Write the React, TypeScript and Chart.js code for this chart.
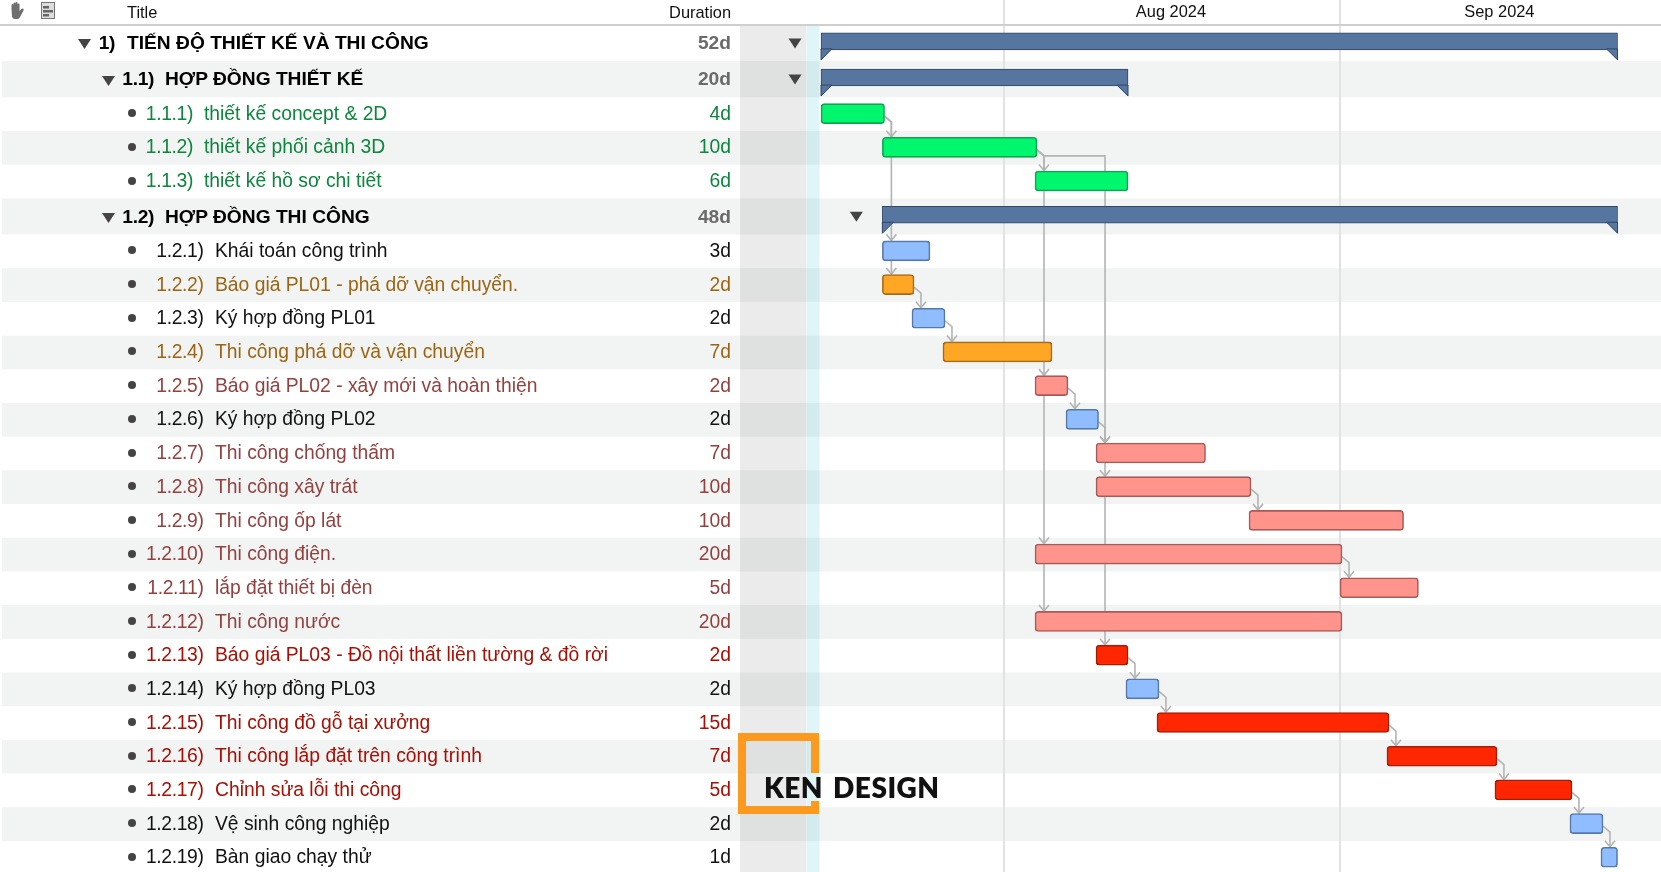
import React, { useEffect, useRef } from "react";
import { Chart, registerables } from "chart.js";

Chart.register(...registerables);

// ---------- data ----------
const rowNumbers = ["1)", "1.1)", "1.1.1)", "1.1.2)", "1.1.3)", "1.2)", "1.2.1)", "1.2.2)", "1.2.3)", "1.2.4)", "1.2.5)", "1.2.6)", "1.2.7)", "1.2.8)", "1.2.9)", "1.2.10)", "1.2.11)", "1.2.12)", "1.2.13)", "1.2.14)", "1.2.15)", "1.2.16)", "1.2.17)", "1.2.18)", "1.2.19)"];
const rowTitles = [
  "TIẾN ĐỘ THIẾT KẾ VÀ THI CÔNG", "HỢP ĐỒNG THIẾT KẾ", "thiết kế concept & 2D", "thiết kế phối cảnh 3D", "thiết kế hồ sơ chi tiết",
  "HỢP ĐỒNG THI CÔNG", "Khái toán công trình", "Báo giá PL01 - phá dỡ vận chuyển.", "Ký hợp đồng PL01", "Thi công phá dỡ và vận chuyển",
  "Báo giá PL02 - xây mới và hoàn thiện", "Ký hợp đồng PL02", "Thi công chống thấm", "Thi công xây trát", "Thi công ốp lát",
  "Thi công điện.", "lắp đặt thiết bị đèn", "Thi công nước", "Báo giá PL03 - Đồ nội thất liền tường & đồ rời", "Ký hợp đồng PL03",
  "Thi công đồ gỗ tại xưởng", "Thi công lắp đặt trên công trình", "Chỉnh sửa lỗi thi công", "Vệ sinh công nghiệp", "Bàn giao chạy thử",
];
const rowDurations = ["52d", "20d", "4d", "10d", "6d", "48d", "3d", "2d", "2d", "7d", "2d", "2d", "7d", "10d", "10d", "20d", "5d", "20d", "2d", "2d", "15d", "7d", "5d", "2d", "1d"];
const rowKinds = ["summary", "summary", "design", "design", "design", "summary", "admin", "demolition", "admin", "demolition", "build", "admin", "build", "build", "build", "build", "build", "build", "joinery", "admin", "joinery", "joinery", "joinery", "admin", "admin"];
// Day numbers counted from 1 July 2024
const barStarts = [14.12, 14.12, 14.12, 19.78, 33.86, 19.78, 19.78, 19.78, 22.51, 25.37, 33.86, 36.72, 39.49, 39.49, 53.6, 33.86, 62.0, 33.86, 39.49, 42.25, 45.11, 66.33, 76.29, 83.21, 86.07];
const barEnds = [87.6, 42.44, 19.98, 34.04, 42.44, 87.6, 24.17, 22.7, 25.56, 35.43, 36.9, 39.72, 49.59, 53.79, 67.86, 62.18, 69.23, 62.18, 42.44, 45.3, 66.52, 76.48, 83.4, 86.26, 87.6];
const linkFrom = [2, 2, 3, 3, 3, 6, 7, 8, 10, 11, 12, 13, 13, 10, 15, 15, 18, 19, 20, 21, 22, 23];
const linkTo = [3, 6, 4, 10, 12, 7, 8, 9, 11, 12, 13, 14, 18, 15, 16, 17, 19, 20, 21, 22, 23, 24];
const monthStarts = [31, 62];
const monthLabelDays = [46.4, 76.7];
const monthLabels = ["Aug 2024", "Sep 2024"];
const nonWorkingRange = [6.65, 12.75];
const todayRange = [12.78, 13.98];

// ---------- layout and style ----------
const W = 1661;
const H = 872;
const HEAD = 25;
const ROW = 33.69;
const SUMMARY_WEIGHT = 1.073;
const DAY_PX = 10.84;
const AUG_PX = 1004;

const weight = (i: number) => (rowKinds[i] === "summary" ? SUMMARY_WEIGHT : 1);
const rowTop = (i: number) => {
  let t = 0;
  for (let k = 0; k < i; k++) t += weight(k);
  return t;
};
const rowMid = (i: number) => rowTop(i) + weight(i) / 2;

const barFill: Record<string, string> = { summary: "#56769f", design: "#00f66c", admin: "#8fbdff", demolition: "#ffa724", build: "#ff948c", joinery: "#ff2600" };
const barEdge: Record<string, string> = { summary: "#2e4769", design: "#0fa352", admin: "#5578a8", demolition: "#a56a1a", build: "#a85a58", joinery: "#a81c06" };
const textColour: Record<string, string> = { summary: "#000", design: "#0b863c", admin: "#111", demolition: "#9c6412", build: "#93413f", joinery: "#a80e04" };
const FONT = '"Liberation Sans", Arial, sans-serif';

const taskRows = rowKinds.map((k, i) => i).filter((i) => rowKinds[i] !== "summary");
const summaryRows = rowKinds.map((k, i) => i).filter((i) => rowKinds[i] === "summary");

const ganttDecor = {
  id: "ganttDecor",
  beforeDraw(chart: any) {
    const { ctx, chartArea: a, scales } = chart;
    const y = scales.y;
    const x = scales.x;
    ctx.save();
    ctx.fillStyle = "#fff";
    ctx.fillRect(0, 0, W, H);
    rowKinds.forEach((_, i) => {
      if (i % 2 === 1) {
        ctx.fillStyle = "#f2f4f3";
        const t = y.getPixelForValue(rowTop(i));
        const b = y.getPixelForValue(rowTop(i) + weight(i));
        ctx.fillRect(2, t, W - 2, b - t);
      }
    });
    ctx.fillStyle = "rgba(0,0,0,0.08)";
    ctx.fillRect(x.getPixelForValue(nonWorkingRange[0]), a.top, x.getPixelForValue(nonWorkingRange[1]) - x.getPixelForValue(nonWorkingRange[0]), a.bottom - a.top);
    ctx.fillStyle = "rgba(0,170,200,0.12)";
    ctx.fillRect(x.getPixelForValue(todayRange[0]), a.top, x.getPixelForValue(todayRange[1]) - x.getPixelForValue(todayRange[0]), a.bottom - a.top);
    ctx.restore();
  },
  beforeDatasetsDraw(chart: any) {
    const { ctx, scales } = chart;
    const x = scales.x;
    const y = scales.y;
    ctx.save();
    ctx.strokeStyle = "#b3b3b3";
    ctx.fillStyle = "none";
    ctx.lineWidth = 1.6;
    ctx.lineJoin = "round";
    const tasks = (i: number) => y.getPixelForValue(rowMid(i));
    linkFrom.forEach((f, n) => {
      const t = linkTo[n];
      const endX = x.getPixelForValue(barEnds[f]);
      const tx = x.getPixelForValue(barStarts[t]) + 9;
      const fy = tasks(f) - 1;
      const ty = tasks(t) - 11;
      ctx.beginPath();
      if (tx < endX - 2) {
        ctx.moveTo(tx, fy + 10);
      } else {
        ctx.moveTo(endX, fy + 3);
        ctx.lineTo(endX + 7, fy + 9);
        ctx.lineTo(tx, fy + 9);
      }
      ctx.lineTo(tx, ty);
      ctx.stroke();
      ctx.beginPath();
      ctx.moveTo(tx - 5, ty - 6);
      ctx.lineTo(tx, ty);
      ctx.lineTo(tx + 5, ty - 6);
      ctx.stroke();
    });
    ctx.restore();
  },
  afterDatasetsDraw(chart: any) {
    const { ctx } = chart;
    const meta = chart.getDatasetMeta(1);
    ctx.save();
    meta.data.forEach((el: any) => {
      const bottom = el.y + el.height / 2;
      const left = el.base;
      const right = el.x;
      ctx.fillStyle = barFill.summary;
      ctx.strokeStyle = barEdge.summary;
      ctx.lineWidth = 1;
      ctx.beginPath();
      ctx.moveTo(left, bottom - 1);
      ctx.lineTo(left, bottom + 10);
      ctx.lineTo(left + 11, bottom - 1);
      ctx.closePath();
      ctx.fill();
      ctx.stroke();
      ctx.beginPath();
      ctx.moveTo(right, bottom - 1);
      ctx.lineTo(right, bottom + 10);
      ctx.lineTo(right - 11, bottom - 1);
      ctx.closePath();
      ctx.fill();
      ctx.stroke();
      ctx.fillStyle = "#444";
      ctx.beginPath();
      const cx = left - 26;
      const cy = el.y + 2;
      ctx.moveTo(cx - 6.5, cy - 5);
      ctx.lineTo(cx + 6.5, cy - 5);
      ctx.lineTo(cx, cy + 5);
      ctx.closePath();
      ctx.fill();
    });
    ctx.restore();
  },
};

function Triangle({ left, mid }: { left: number; mid: number }) {
  return (
    <svg width={13} height={10} style={{ position: "absolute", left, top: mid - 4 }}>
      <polygon points="0,0 13,0 6.5,10" fill="#444" />
    </svg>
  );
}

const ORANGE = "#fb9a1f";

export default function App() {
  const ref = useRef<HTMLCanvasElement>(null);
  useEffect(() => {
    const chart = new Chart(ref.current as HTMLCanvasElement, {
      type: "bar",
      data: {
        datasets: [
          {
            label: "Tasks",
            data: taskRows.map((i) => ({ x: [barStarts[i], barEnds[i]], y: rowMid(i) - 0.015 })),
            backgroundColor: taskRows.map((i) => barFill[rowKinds[i]]),
            borderColor: taskRows.map((i) => barEdge[rowKinds[i]]),
            borderWidth: 1.6,
            borderSkipped: false,
            borderRadius: 3.5,
            barThickness: 20,
          },
          {
            label: "Groups",
            data: summaryRows.map((i) => ({ x: [barStarts[i], barEnds[i]], y: rowMid(i) - 0.05 })),
            backgroundColor: barFill.summary,
            borderColor: barEdge.summary,
            borderWidth: 1,
            borderSkipped: false,
            barThickness: 17,
          },
        ] as any,
      },
      options: {
        animation: false,
        responsive: false,
        indexAxis: "y",
        layout: { padding: 0 },
        plugins: { legend: { display: false }, tooltip: { enabled: false } },
        datasets: { bar: { grouped: false } } as any,
        scales: {
          y: {
            type: "linear",
            display: false,
            offset: false,
            reverse: true,
            min: 0,
            max: (H - HEAD) / ROW,
          },
          x: {
            type: "linear",
            position: "top",
            min: 31 - AUG_PX / DAY_PX,
            max: 31 - AUG_PX / DAY_PX + W / DAY_PX,
            afterFit(scale: any) {
              scale.height = HEAD;
            },
            afterBuildTicks(scale: any) {
              scale.ticks = [...monthStarts.map((value) => ({ value })), ...monthLabelDays.map((value) => ({ value }))];
            },
            border: { display: true, color: "#cfcfcf", width: 2 },
            grid: {
              display: true,
              lineWidth: 2,
              tickLength: HEAD,
              color: (c: any) => (monthStarts.includes(c.tick?.value) ? "#e2e2e2" : "rgba(0,0,0,0)"),
              tickColor: (c: any) => (monthStarts.includes(c.tick?.value) ? "#e2e2e2" : "rgba(0,0,0,0)"),
            } as any,
            ticks: {
              autoSkip: false,
              maxRotation: 0,
              minRotation: 0,
              padding: -22.5,
              color: "#111",
              font: { family: FONT, size: 16.4 },
              callback: (value: any) => {
                const k = monthLabelDays.indexOf(Number(value));
                return k >= 0 ? monthLabels[k] : "";
              },
            },
          },
        } as any,
      },
      plugins: [ganttDecor],
    } as any);
    return () => chart.destroy();
  }, []);

  return (
    <div style={{ position: "fixed", left: 0, top: 0, width: W, height: H, overflow: "hidden", background: "#fff", fontFamily: FONT }}>
      <canvas ref={ref} width={W} height={H} style={{ position: "absolute", left: 0, top: 0, width: W, height: H }} />

      <svg width={19} height={19} viewBox="3 0 14 19" style={{ position: "absolute", left: 8, top: 1 }}>
        <path d="M4 8 V4 a1 1 0 0 1 2 0 V7 V2.5 a1 1 0 0 1 2 0 V7 V2 a1 1 0 0 1 2 0 V7 V3.5 a1 1 0 0 1 2 0 V10 l2 -2 a1.2 1.2 0 0 1 2 1.4 L12.5 16 a3 3 0 0 1 -2.5 2 H7.5 a3 3 0 0 1 -3 -2.5 Z" fill="#6f6f6f" />
      </svg>
      <svg width={15} height={18} style={{ position: "absolute", left: 41, top: 2 }}>
        <rect x={0.5} y={0.5} width={13} height={16} fill="#ddd" stroke="#777" />
        <rect x={2} y={4} width={6} height={2.5} fill="#666" />
        <rect x={2} y={8} width={10} height={2.5} fill="#666" />
        <rect x={2} y={12} width={6} height={2.5} fill="#666" />
      </svg>
      <div style={{ position: "absolute", left: 127, top: 0.5, lineHeight: "22px", fontSize: 16.4, color: "#111" }}>Title</div>
      <div style={{ position: "absolute", right: W - 731, top: 0.5, lineHeight: "22px", fontSize: 16.4, color: "#111" }}>Duration</div>

      {rowTitles.map((title, i) => {
        const kind = rowKinds[i];
        const isSummary = kind === "summary";
        const top = HEAD + rowTop(i) * ROW - 0.5 + (isSummary ? 0.8 : 0);
        const h = weight(i) * ROW;
        const colour = textColour[kind];
        const onDesign = rowNumbers[i].startsWith("1.1.");
        const numberRight = i === 0 ? 115 : isSummary ? 154 : onDesign ? 193 : 203.5;
        const titleLeft = i === 0 ? 127 : isSummary ? 165 : onDesign ? 204 : 215;
        const cell: React.CSSProperties = {
          position: "absolute",
          top,
          height: h,
          lineHeight: `${h}px`,
          fontSize: isSummary ? 19.2 : 19.3,
          fontWeight: isSummary ? 700 : 400,
          color: colour,
          whiteSpace: "nowrap",
        };
        return (
          <React.Fragment key={i}>
            {isSummary && <Triangle left={i === 0 ? 78 : 102} mid={top + h / 2} />}
            {!isSummary && (
              <span style={{ position: "absolute", left: 128, top: top + h / 2 - 4.5, width: 8, height: 8, borderRadius: 4, background: "#444" }} />
            )}
            <div style={{ ...cell, right: W - numberRight, letterSpacing: -0.35 }}>{rowNumbers[i]}</div>
            <div style={{ ...cell, left: titleLeft }}>{title}</div>
            <div style={{ ...cell, right: W - 731, color: isSummary ? "#6a6a6a" : colour }}>{rowDurations[i]}</div>
          </React.Fragment>
        );
      })}

      <div style={{ position: "absolute", left: 738, top: 733, width: 81, height: 81, boxSizing: "border-box", borderStyle: "solid", borderColor: ORANGE, borderWidth: "8px 0 8px 8px" }} />
      <div style={{ position: "absolute", left: 811, top: 733, width: 8, height: 40, background: ORANGE }} />
      <div style={{ position: "absolute", left: 811, top: 801, width: 8, height: 13, background: ORANGE }} />
      <div style={{ position: "absolute", left: 764, top: 770, lineHeight: "34px", fontSize: 28, fontWeight: 800, fontFamily: "Lato, sans-serif", color: "#111", whiteSpace: "nowrap", wordSpacing: 3, letterSpacing: 0.5 }}>
        KEN DESIGN
      </div>
    </div>
  );
}
